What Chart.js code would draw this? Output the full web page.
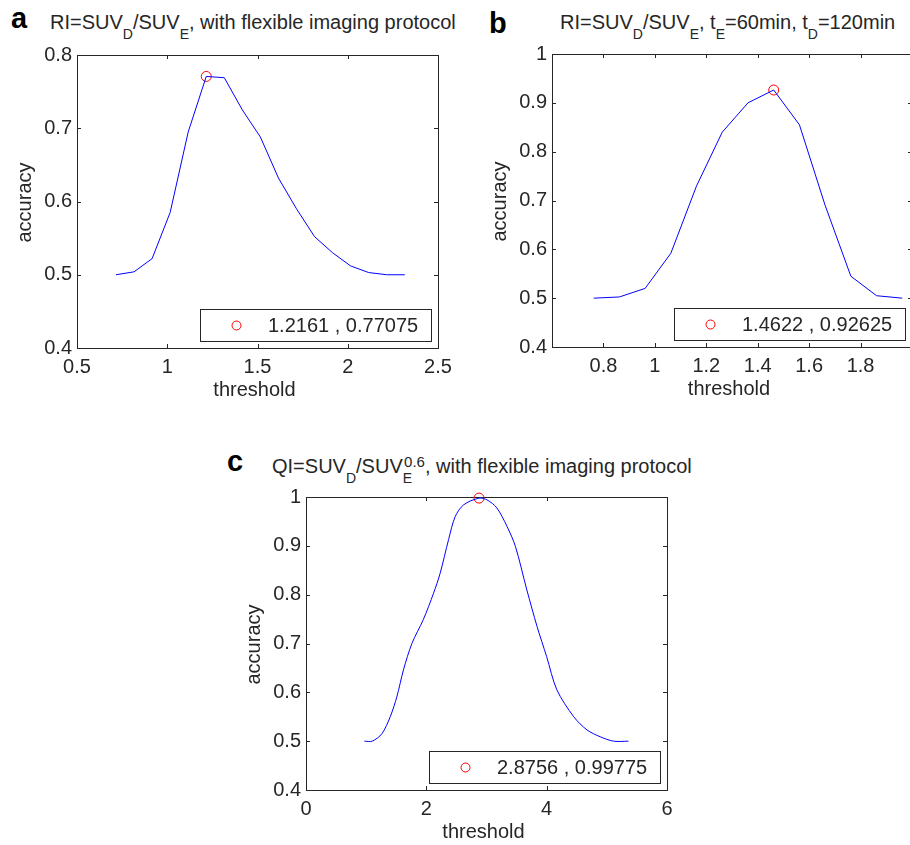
<!DOCTYPE html>
<html>
<head>
<meta charset="utf-8">
<script src="https://cdn.jsdelivr.net/npm/chart.js@4.4.1/dist/chart.umd.min.js"></script>
<style>
  html, body { margin: 0; padding: 0; background: #fff; width: 910px; height: 845px; overflow: hidden; }
  body { position: relative; font-family: "Liberation Sans", Arial, sans-serif; color: #262626; }
  .panel { position: absolute; }
  .ttl { position: absolute; font-size: 20px; line-height: 20px; white-space: nowrap; }
  .ttl sub { font-size: 14px; line-height: 0; vertical-align: -10px; }
  .ttl sup { font-size: 15px; line-height: 0; vertical-align: 6px; }
  .tag { position: absolute; font-size: 29px; line-height: 29px; font-weight: bold; color: #000; }
</style>
</head>
<body>
<div class="tag" style="left:11px;top:4px">a</div>
<div class="ttl" style="left:50px;top:12px">RI=SUV<sub>D</sub>/SUV<sub>E</sub>, with flexible imaging protocol</div>
<div class="tag" style="left:489px;top:9px">b</div>
<div class="ttl" style="left:560px;top:12px">RI=SUV<sub>D</sub>/SUV<sub>E</sub>, t<sub>E</sub>=60min, t<sub>D</sub>=120min</div>
<div class="tag" style="left:227px;top:447px">c</div>
<div class="ttl" style="left:272px;top:456px">QI=SUV<sub>D</sub>/SUV<sub>E</sub><sup style="margin-left:-8px">0.6</sup>, with flexible imaging protocol</div>

<div class="panel" id="pa"><canvas id="ca"></canvas></div>
<div class="panel" id="pb"><canvas id="cb"></canvas></div>
<div class="panel" id="pc"><canvas id="cc"></canvas></div>

<script>
// panel a: RI, flexible protocol
const thrA = [0.7161, 0.8161, 0.9161, 1.0161, 1.1161, 1.2161, 1.3161, 1.4161, 1.5161, 1.6161, 1.7161, 1.8161, 1.9161, 2.0161, 2.1161, 2.2161, 2.3161];
const accA = [0.5, 0.504, 0.522, 0.585, 0.695, 0.77075, 0.769, 0.725, 0.688, 0.632, 0.59, 0.552, 0.53, 0.512, 0.503, 0.5, 0.5];
const peakA = [1.2161, 0.77075];
const xTicksA = [0.5, 1, 1.5, 2, 2.5];
const yTicksA = [0.4, 0.5, 0.6, 0.7, 0.8];

// panel b: RI, tE=60min, tD=120min
const thrB = [0.7622, 0.8622, 0.9622, 1.0622, 1.1622, 1.2622, 1.3622, 1.4622, 1.5622, 1.6622, 1.7622, 1.8622, 1.9622];
const accB = [0.5, 0.5025, 0.52, 0.592, 0.73, 0.84, 0.9, 0.92625, 0.855, 0.69, 0.545, 0.505, 0.5];
const peakB = [1.4622, 0.92625];
const xTicksB = [0.8, 1, 1.2, 1.4, 1.6, 1.8];
const yTicksB = [0.4, 0.5, 0.6, 0.7, 0.8, 0.9, 1];

// panel c: QI, flexible protocol
const thrC = [0.97, 1.1, 1.26, 1.4, 1.51, 1.62, 1.76, 1.95, 2.12, 2.23, 2.37, 2.48, 2.62, 2.8756, 3.01, 3.17, 3.34, 3.48, 3.67, 3.84, 4.0, 4.17, 4.45, 4.67, 4.89, 5.11, 5.36];
const accC = [0.5, 0.5, 0.515, 0.55, 0.591, 0.646, 0.7, 0.749, 0.803, 0.844, 0.913, 0.96, 0.984, 0.99775, 0.994, 0.978, 0.94, 0.899, 0.81, 0.735, 0.673, 0.605, 0.55, 0.523, 0.509, 0.5, 0.5];
const peakC = [2.8756, 0.99775];
const xTicksC = [0, 2, 4, 6];
const yTicksC = [0.4, 0.5, 0.6, 0.7, 0.8, 0.9, 1];

const FONT = '"Liberation Sans", Arial, sans-serif';
const INK = '#262626';
const PADL = 70, PADT = 14, PADR = 20, PADB = 60;

// frame, inward ticks on all four sides, axis titles and the legend box
const matlabAxes = {
  id: 'matlabAxes',
  beforeDatasetsDraw(chart) {
    const { ctx, chartArea: a, scales } = chart;
    ctx.save();
    ctx.strokeStyle = INK;
    ctx.lineWidth = 1;
    ctx.strokeRect(Math.round(a.left) + 0.5, Math.round(a.top) + 0.5,
      Math.round(a.right - a.left), Math.round(a.bottom - a.top));
    const tl = 4;
    ctx.beginPath();
    scales.x.ticks.forEach(t => {
      const x = Math.round(scales.x.getPixelForValue(t.value)) + 0.5;
      ctx.moveTo(x, a.bottom); ctx.lineTo(x, a.bottom - tl);
      ctx.moveTo(x, a.top); ctx.lineTo(x, a.top + tl);
    });
    scales.y.ticks.forEach(t => {
      const y = Math.round(scales.y.getPixelForValue(t.value)) + 0.5;
      ctx.moveTo(a.left, y); ctx.lineTo(a.left + tl, y);
      ctx.moveTo(a.right, y); ctx.lineTo(a.right - tl, y);
    });
    ctx.stroke();

    ctx.fillStyle = INK;
    ctx.font = '20px ' + FONT;
    ctx.textAlign = 'center';
    ctx.textBaseline = 'middle';
    ctx.fillText('threshold', (a.left + a.right) / 2 - 3, a.bottom + 42);
    ctx.translate(a.left - 52, (a.top + a.bottom) / 2 + 1);
    ctx.rotate(-Math.PI / 2);
    ctx.fillText('accuracy', 0, 0);
    ctx.restore();
  },
  afterDatasetsDraw(chart, args, opts) {
    const { ctx, chartArea: a } = chart;
    const w = 231, h = 32;
    const bx = Math.round(a.right - 7.5 - w), by = Math.round(a.bottom - 7.5 - h);
    ctx.save();
    ctx.fillStyle = '#fff';
    ctx.fillRect(bx, by, w, h);
    ctx.strokeStyle = INK;
    ctx.lineWidth = 1;
    ctx.strokeRect(bx + 0.5, by + 0.5, w, h);
    ctx.strokeStyle = '#ff0000';
    ctx.beginPath();
    ctx.arc(bx + 36.5, by + h / 2 + 0.5, 4.5, 0, Math.PI * 2);
    ctx.stroke();
    ctx.fillStyle = INK;
    ctx.font = '20px ' + FONT;
    ctx.textAlign = 'left';
    ctx.textBaseline = 'middle';
    ctx.fillText(opts.peak[0] + ' , ' + opts.peak[1], bx + 68, by + h / 2 + 1.5);
    ctx.restore();
  }
};

function drawPanel(boxId, canvasId, area, xr, yr, thr, acc, peak, xTicks, yTicks) {
  const [L, T, R, B] = area;
  const box = document.getElementById(boxId);
  const cv = document.getElementById(canvasId);
  const w = Math.round(R - L) + PADL + PADR;
  const h = Math.round(B - T) + PADT + PADB;
  box.style.left = (L - PADL) + 'px';
  box.style.top = (T - PADT) + 'px';
  cv.width = w; cv.height = h;
  cv.style.width = w + 'px'; cv.style.height = h + 'px';

  const tickFont = { family: FONT, size: 20 };
  new Chart(cv, {
    type: 'scatter',
    data: {
      datasets: [
        {
          data: thr.map((x, i) => ({ x: x, y: acc[i] })),
          showLine: true,
          borderColor: '#0000ff',
          borderWidth: 1,
          pointRadius: 0,
          tension: thr.length > 20 ? 0.3 : 0
        },
        {
          data: [{ x: peak[0], y: peak[1] }],
          pointRadius: 5,
          pointStyle: 'circle',
          pointBorderColor: '#ff0000',
          pointBackgroundColor: 'rgba(0,0,0,0)',
          pointBorderWidth: 1,
          clip: false
        }
      ]
    },
    options: {
      responsive: false,
      animation: false,
      events: [],
      layout: { padding: { left: 0, top: PADT, right: PADR, bottom: 0 } },
      plugins: {
        legend: { display: false },
        tooltip: { enabled: false },
        matlabAxes: { peak: peak }
      },
      scales: {
        x: {
          type: 'linear', min: xr[0], max: xr[1],
          afterBuildTicks: s => { s.ticks = xTicks.map(v => ({ value: v })); },
          afterFit: s => { s.height = PADB; s.paddingLeft = 0; s.paddingRight = 0; },
          grid: { display: false, drawTicks: false },
          border: { display: false },
          ticks: { padding: 7, color: INK, font: tickFont, maxRotation: 0, autoSkip: false, callback: v => String(v) }
        },
        y: {
          type: 'linear', min: yr[0], max: yr[1],
          afterBuildTicks: s => { s.ticks = yTicks.map(v => ({ value: v })); },
          afterFit: s => { s.width = PADL; s.paddingTop = 0; s.paddingBottom = 0; },
          grid: { display: false, drawTicks: false },
          border: { display: false },
          ticks: { padding: 5, color: INK, font: tickFont, autoSkip: false, callback: v => String(v) }
        }
      }
    },
    plugins: [matlabAxes]
  });
}

drawPanel('pa', 'ca', [77, 55, 438, 348], [0.5, 2.5], [0.4, 0.8], thrA, accA, peakA, xTicksA, yTicksA);
drawPanel('pb', 'cb', [552, 54, 912, 347], [0.6, 2.0], [0.4, 1], thrB, accB, peakB, xTicksB, yTicksB);
drawPanel('pc', 'cc', [306, 497, 667, 790], [0, 6], [0.4, 1], thrC, accC, peakC, xTicksC, yTicksC);
</script>
</body>
</html>
